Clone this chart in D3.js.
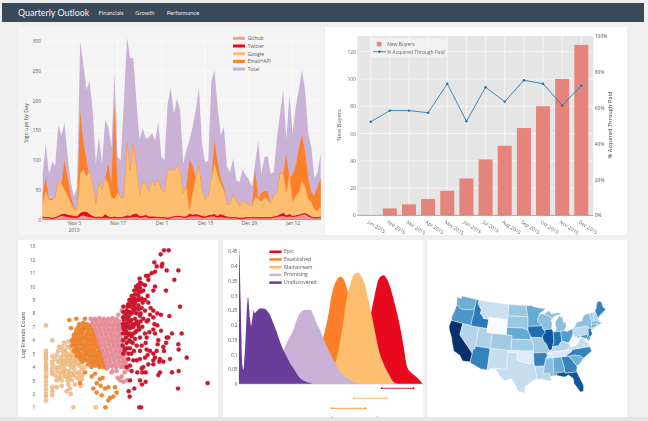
<!DOCTYPE html>
<html><head><meta charset="utf-8">
<script src="https://cdnjs.cloudflare.com/ajax/libs/d3/7.9.0/d3.min.js"></script>
<style>
html,body{margin:0;padding:0;background:#efefef;overflow:hidden}
svg{display:block;filter:blur(0.45px)}
text{font-family:"Open Sans",sans-serif;fill:#555}
.domain{display:none}
</style></head><body>
<svg id="c" width="648" height="421"></svg>
<script>
// ---------- Header ----------
const appTitle = "Quarterly Outlook";
const navItems = ["Financials", "Growth", "Performance"];

// ---------- Chart 1: sign ups by day ----------
const signupStart = new Date(2013, 9, 24);
const signupTotal = [78,127,77,97,91,159,142,163,105,63,38,55,300,262,218,233,184,94,139,94,168,156,122,247,105,100,200,306,272,272,200,134,153,136,138,146,132,164,105,101,195,222,178,204,184,94,117,134,156,184,222,128,97,99,232,252,190,142,156,89,80,103,66,63,84,75,67,55,94,132,77,105,107,77,80,139,178,218,134,211,145,190,218,252,218,145,122,69,80,112];
const signupEmail = [45,70,35,35,37,65,60,100,70,40,20,17,183,130,100,70,60,27,62,50,70,94,60,193,50,37,37,132,82,130,90,40,62,62,47,65,57,67,50,45,85,84,82,90,80,43,55,100,90,70,92,50,33,38,70,132,95,68,55,25,26,42,32,22,32,28,25,22,84,35,45,48,48,26,42,44,80,78,108,70,75,90,120,142,115,70,45,40,55,70];
const signupGoogle = [27,48,33,33,37,65,60,50,40,28,17,17,77,85,73,82,60,25,62,50,70,62,37,35,45,37,37,130,82,128,90,40,62,62,47,65,57,67,50,45,85,84,82,90,80,43,55,15,45,70,90,50,33,38,70,95,75,60,50,25,26,42,32,22,32,28,25,22,38,35,30,38,35,26,42,44,78,78,45,78,30,40,45,65,55,35,30,17,15,22];
const signupTwitter = [4,3,3,2,3,5,8,9,7,6,5,4,10,12,12,8,5,3,4,3,8,4,3,4,3,3,4,6,5,8,9,5,5,7,4,4,4,3,3,3,2,3,5,5,5,4,4,9,7,8,7,5,4,6,7,8,5,8,6,4,3,3,3,2,2,3,3,3,3,3,3,3,3,3,4,5,8,10,6,8,5,6,7,9,10,7,4,3,3,4];
const signupGithub = [3,2,2,1,2,4,6,5,4,3,3,2,5,7,5,4,3,2,2,2,3,2,2,2,2,2,3,3,3,4,4,3,3,4,2,2,3,2,2,2,1,2,4,4,4,3,3,5,5,5,5,3,3,4,5,5,3,4,3,3,2,2,2,1,1,2,2,2,2,2,2,2,2,2,3,4,5,6,4,5,4,5,6,8,9,5,3,2,2,3];
const signupLegend = ["Github","Twitter","Google","Email+API","Total"];
const signupColors = ["#fb9a99","#e8091e","#fdbf6f","#fd7f28","#cab2d6"];
const signupTicks = [new Date(2013,10,3),new Date(2013,10,17),new Date(2013,11,1),new Date(2013,11,15),new Date(2013,11,29),new Date(2014,0,12)];

// ---------- Chart 2: new buyers ----------
const months = ["Jan 2015","Feb 2015","Mar 2015","Apr 2015","May 2015","Jun 2015","Jul 2015","Aug 2015","Sep 2015","Oct 2015","Nov 2015","Dec 2015"];
const newBuyers = [0,5,8,12,18,27,41,51,64,80,100,125];
const paidShare = [52.2,58.4,58.4,57.2,73.4,52.4,71.4,63.4,75.3,73.4,61.3,72.3];

// ---------- Chart 3: scatter [score, log friends] ----------
const scatterTan = [[13.8,1.5],[13.8,1.8],[13.8,2],[13.8,2.3],[13.8,2.6],[13.8,2.9],[13.8,3.2],[13.8,3.4],[13.8,3.7],[13.8,3.9],[13.8,4.1],[13.8,4.3],[13.8,4.6],[13.8,4.8],[13.8,5],[13.8,5.2],[13.8,7.1],[15.7,1.9],[15.7,2.2],[15.7,2.5],[15.7,3.5],[15.7,3.7],[15.7,3.9],[15.7,4.2],[15.7,4.4],[15.7,4.8],[15.7,6],[17,2.5],[18.5,2.6],[20,2.2],[21,2.4],[21.2,2],[22.5,2.7],[24.2,2.6],[24,3],[19.2,5.8],[22.2,6.4],[20.5,5.9],[17.5,5.2],[17.7,5.5],[16.8,4],[16.5,3.4],[17.2,3.7],[18,3.2],[18.5,3],[19,3.6],[17.5,4.4],[18.2,4.7],[18.7,4.2],[19.3,3.9],[19.7,4.5],[20,3.3],[20.3,3],[20.8,3.7],[21,4.2],[21.2,4.8],[20.3,5],[19.5,5.2],[21.5,5.3],[22,3.4],[22.2,3.9],[22.5,4.5],[22.7,5],[23,5.5],[23,3.2],[23.5,3.6],[23.8,4.1],[24,4.6],[20.5,2.7],[24.7,3.4],[24.5,3.8],[25.3,4],[22,1],[28.7,1],[17,4.9],[21.6,3],[19,4.9],[18.5,5.5],[20.8,5.5],[21.8,5.8],[16.6,4.6],[17.3,3.2],[17.9,4],[18.1,3.5],[18.6,4.5],[18.9,5.2],[19.4,3.3],[19.6,4.2],[19.9,3.7],[19.9,4.8],[20.4,4.2],[20.6,3.4],[20.9,4.5],[21.3,3.5],[21.4,4],[21.7,4.5],[21.7,5],[22.1,4.2],[22.4,3.6],[22.8,4.2],[23.2,4.8],[23.4,4.4],[23.7,3.4],[24.3,4.3],[24.6,3.1],[18.6,3.8],[18,4.4],[19.1,4.4],[17,3],[21,3.2],[20,5.5],[22.3,5.3],[20.6,4.7],[22,4.7],[23.4,5]];
const scatterOrange = [[20.8,7.5],[22.9,7.6],[25.5,7.6],[21.3,6.9],[23.8,7.2],[25,7.3],[26,7.2],[27,7.1],[23,6.8],[24.2,6.8],[25.4,6.9],[26.6,6.8],[27.8,6.7],[22.2,6.4],[23.4,6.4],[24.6,6.5],[25.8,6.4],[27,6.4],[28.2,6.3],[21.6,6],[22.8,6],[24,6],[25.2,6.1],[26.4,6],[27.6,6],[28.8,5.9],[21.6,5.6],[22.8,5.6],[24,5.7],[25.2,5.6],[26.4,5.6],[27.6,5.6],[28.8,5.6],[29.8,5.5],[22.2,5.2],[23.4,5.2],[24.6,5.3],[25.8,5.2],[27,5.2],[28.2,5.2],[29.4,5.1],[30.4,5.1],[23.2,4.8],[24.4,4.8],[25.6,4.9],[26.8,4.8],[28,4.8],[29.2,4.8],[30.4,4.7],[24.8,4.4],[26,4.5],[27.2,4.4],[28.4,4.4],[29.6,4.4],[30.8,4.4],[27.4,4],[28.6,4.1],[29.8,4],[31,4],[32,3.9],[25.5,3.6],[27.5,3.3],[28.5,3.5],[29,2.8],[30,3.1],[28,2.4],[29,2.1],[30.5,1.9],[31.5,2.4],[32.5,2.5],[33,1.7],[34,1.8],[32.5,1.5],[34.5,2.5],[35,2.1],[31.6,1],[30.2,2.6],[30.8,3.2],[24,2.8],[23.5,7],[24.8,7.05],[26,7],[27.2,6.9],[22.8,6.6],[24,6.6],[25.2,6.7],[26.4,6.6],[27.6,6.5],[28.6,6.5],[22.2,6.2],[23.4,6.2],[24.6,6.25],[25.8,6.2],[27,6.2],[28.2,6.15],[29.2,6.1],[22,5.8],[23.2,5.8],[24.4,5.85],[25.6,5.8],[26.8,5.8],[28,5.8],[29.2,5.75],[22.6,5.4],[23.8,5.4],[25,5.45],[26.2,5.4],[27.4,5.4],[28.6,5.4],[29.8,5.3],[23,5],[24.2,5],[25.4,5.05],[26.6,5],[27.8,5],[29,5],[30.2,4.9],[24.2,4.6],[25.4,4.65],[26.6,4.6],[27.8,4.6],[29,4.6],[30.2,4.6],[31.2,4.5],[26.4,4.2],[27.6,4.25],[28.8,4.2],[30,4.2],[31.2,4.2]];
const scatterPink = [[27.2,7.6],[28.5,7.6],[29.8,7.65],[31.1,7.6],[32.4,7.6],[33.7,7.65],[35,7.6],[35.5,7.9],[36.5,8.2],[27.7,7.2],[29,7.2],[30.3,7.2],[31.6,7.25],[32.9,7.2],[34.2,7.2],[35.5,7.2],[28.6,6.8],[29.9,6.8],[31.2,6.85],[32.5,6.8],[33.8,6.8],[35.1,6.8],[36.1,6.8],[29.2,6.4],[30.5,6.4],[31.8,6.45],[33.1,6.4],[34.4,6.4],[35.7,6.4],[29.7,6],[31,6],[32.3,6.05],[33.6,6],[34.9,6],[36.2,6],[30.2,5.6],[31.5,5.6],[32.8,5.65],[34.1,5.6],[35.4,5.6],[36.4,5.5],[30.7,5.2],[32,5.2],[33.3,5.25],[34.6,5.2],[35.9,5.2],[36.7,5.1],[31.2,4.8],[32.5,4.8],[33.8,4.85],[35.1,4.8],[36.4,4.8],[31.7,4.4],[33,4.4],[34.3,4.45],[35.6,4.4],[36.9,4.4],[37.8,4.3],[32.3,4],[33.6,4.05],[34.9,4],[36.2,4],[37.2,4],[33.5,3.6],[35,3.7],[36.5,3.3],[37,2.9],[38,3],[36,3],[33.8,3.7],[35.3,3.2],[37.4,3.6],[38.4,3.8],[27.9,7.4],[29.2,7.4],[30.5,7.4],[31.8,7.4],[33.1,7.45],[34.4,7.4],[35.7,7.4],[28.4,7],[29.7,7],[31,7],[32.3,7.05],[33.6,7],[34.9,7],[36,7],[29,6.6],[30.3,6.6],[31.6,6.6],[32.9,6.65],[34.2,6.6],[35.5,6.6],[29.6,6.2],[30.9,6.2],[32.2,6.2],[33.5,6.25],[34.8,6.2],[36,6.2],[30,5.8],[31.3,5.8],[32.6,5.8],[33.9,5.85],[35.2,5.8],[36.4,5.8],[30.5,5.4],[31.8,5.4],[33.1,5.4],[34.4,5.45],[35.7,5.4],[36.8,5.4],[31,5],[32.3,5],[33.6,5],[34.9,5.05],[36.2,5],[37.2,4.9],[31.6,4.6],[32.9,4.6],[34.2,4.6],[35.5,4.65],[36.8,4.6],[37.6,4.55],[32,4.2],[33.3,4.2],[34.6,4.2],[35.9,4.25],[37.2,4.2]];
const scatterRed = [[37,5],[37.5,5.4],[38,5.8],[37,6],[38.5,5],[39,5.4],[39.8,5.8],[37.4,6.5],[38.5,6.4],[39.5,6.3],[40.5,6.1],[41,5.6],[37,7],[38,7],[39,6.9],[40,7],[41,6.7],[42,6.2],[37.2,7.5],[38.3,7.6],[39.4,7.5],[40.5,7.6],[41.5,7.2],[42.7,7],[43.5,6.5],[37,8.1],[38,8.2],[39,8.1],[40,8.3],[41,8],[42,7.8],[43,7.6],[44,7.4],[38.5,8.7],[39.5,8.8],[40.5,8.8],[41.5,8.6],[42.5,8.4],[43.5,8.2],[39.5,9.3],[40.5,9.4],[41.5,9.3],[42.5,9.1],[43.5,9],[44.5,8.8],[41,9.8],[42,9.9],[43,9.7],[42,10.3],[42.5,10.2],[43.5,10.1],[36.8,5.6],[37.8,6.2],[38.8,6],[39.4,5],[40.2,5.2],[40.6,6.6],[41.8,6.8],[37.8,6.7],[38.6,7.3],[39.7,7.2],[41,7.4],[42.2,7.4],[37.8,7.9],[38.7,7.8],[40.5,8.1],[41.6,8.3],[36.9,7.7],[39.1,8.5],[40.1,8.6],[42.8,8.8],[41.1,9],[42.2,9.6],[40.3,9.1],[38.8,9],[40.3,9.7],[44.5,10.8],[43.8,10.8],[45.5,11],[46.5,11.1],[47,11.5],[48.5,11.5],[48.7,11.7],[46.3,11.8],[48.2,12.4],[49.2,12.7],[50.6,12.7],[53.5,11.2],[50,11.2],[52.3,10.5],[44.5,10.5],[46.5,10],[46,9.7],[49.8,9.7],[54,8.5],[44.5,7.5],[46,7.7],[46.3,7.2],[47.2,8],[48.3,7.9],[50.8,7.8],[46,6.8],[47.2,7.1],[46.5,6.5],[48.3,6.7],[49.8,5.8],[51.6,6.5],[54.5,6.5],[50,6.2],[50.5,6.2],[53.5,5.7],[53.6,5.3],[47.5,6],[47.3,5.7],[49,5.5],[49.2,5.2],[47,5.2],[46,5],[46.5,4.7],[45,5.2],[44,5.3],[44.3,4.9],[43.5,4.7],[46,4.5],[47.8,4.4],[48,4.6],[49,4.4],[51,4.6],[56,4.7],[38.5,4.6],[40,4.5],[41,4.5],[42,4.6],[43,4],[42.5,3.9],[44.5,4.2],[46,4.2],[38,4],[39,4.1],[39.5,3.7],[41.2,3.6],[42.7,3.6],[43.7,3.6],[47.5,3.4],[48,3.6],[51.6,3.6],[53.6,3.7],[39,3],[42,3],[43.7,2.9],[42.6,2.7],[40.3,2.4],[38.6,2.2],[38.9,1.8],[53.4,2.4],[62.3,2.8],[41.8,1],[42.3,1],[44,6.2],[43.7,5.8],[42.5,5.6],[42,5.2],[44.8,6.6],[45,7.9],[45.2,8.4],[44.3,9.3],[46,8.2],[37.4,5.2],[38.3,5.4],[39.1,5.9],[38,6.6],[39,6.5],[40,6.5],[37.6,7.2],[38.6,7],[39.6,7],[40.6,7.2],[41.6,7],[37.5,7.8],[38.5,8.1],[39.5,8],[40.6,8.4],[42.2,8],[38.2,8.5],[39.2,9],[40,9],[41.8,9],[41.5,9.6],[40.8,10],[41.4,10.1],[41.9,10.6],[37.2,6.8],[36.8,6.5],[36.8,7.2],[37,8.5],[38.5,7.4]];

// ---------- Chart 4: densities [score, density] ----------
const densityNames = ["Epic","Established","Mainstream","Promising","Undiscovered"];
const densityColors = ["#e8091e","#fd7f28","#fdbf6f","#c9b2d6","#6a3d9a"];
const densityEpic = [[17.15,0],[18.4,.076],[19.15,.166],[19.9,.251],[20.4,.307],[20.9,.353],[21.4,.367],[21.65,.369],[22.15,.358],[22.65,.33],[23.15,.29],[23.65,.245],[24.15,.194],[24.65,.132],[25.15,.064],[25.65,.042],[26.4,.028],[27.15,.011],[27.55,0]];
const densityEstablished = [[10.4,0],[11.65,.053],[12.4,.132],[12.9,.183],[13.4,.234],[13.9,.302],[14.4,.341],[14.9,.36],[15.25,.364],[15.75,.353],[16.25,.319],[16.55,.29],[17.15,.211],[18.15,.11],[19.15,.03],[19.9,0]];
const densityMainstream = [[12.15,0],[13.15,.019],[13.9,.047],[14.65,.087],[15.15,.143],[15.65,.211],[16.15,.29],[16.65,.336],[17.15,.369],[17.75,.377],[18.4,.364],[18.9,.336],[19.4,.285],[19.9,.234],[20.4,.177],[20.9,.121],[21.65,.07],[22.4,.036],[23.15,.008],[23.9,0]];
const densityPromising = [[4.65,.002],[5.65,.042],[6.4,.093],[7,.132],[7.65,.16],[8.15,.183],[8.65,.217],[9.15,.24],[9.65,.25],[10.15,.252],[10.75,.252],[11.15,.234],[11.65,.206],[12.15,.183],[12.65,.155],[13.15,.127],[13.65,.104],[14.4,.07],[15.15,.042],[16.15,.021],[17.15,.008],[18.15,0]];
const densityUndiscovered = [[0,0],[0.01,.46],[0.25,.28],[0.5,.065],[0.65,.047],[0.9,.12],[1.35,.295],[1.65,.222],[1.8,.197],[2,.222],[2.2,.25],[2.35,.24],[2.65,.247],[3.15,.256],[3.65,.256],[4.15,.25],[4.65,.234],[5.15,.205],[5.65,.177],[6.15,.143],[6.65,.115],[7.15,.093],[7.65,.07],[8.15,.053],[8.65,.036],[9.15,.02],[9.65,.012],[10.4,.005],[11.15,0]];
const densityRanges = [[21.4,26.15,"#d7142b"],[17.3,22.15,"#fdb25f"],[13.9,19,"#fd9140"]];
const densityTicks = [0,.05,.1,.15,.2,.25,.3,.35,.4,.45];

// ---------- Chart 5: state map ----------
const stateCodes = ["WA","OR","CA","NV","ID","MT","WY","UT","AZ","CO","NM","ND","SD","NE","KS","OK","TX","MN","IA","MO","AR","LA","WI","IL","MI","IN","OH","KY","TN","MS","AL","GA","FL","SC","NC","VA","WV","PA","MD","DE","NJ","NY","CT","RI","MA","VT","NH","ME"];
const stateValues = [.5,.6,1,.3,.72,.22,0,.32,.68,.36,.24,.38,.38,.52,.36,.13,.24,.52,.76,.36,.68,.28,.42,.86,.42,.74,.58,.3,.14,.42,.52,.68,.86,.48,.68,.24,0,.28,.6,.72,.76,.42,.48,.52,.48,.36,.3,.68];
const stateRings = [
 [[[-124.7,48.4],[-123.2,48.2],[-122.8,49],[-117.03,49],[-117.04,46.4],[-119,45.93],[-121.2,45.65],[-122.3,45.55],[-123.2,46.15],[-124,46.25]]],
 [[[-124,46.25],[-123.2,46.15],[-122.3,45.55],[-121.2,45.65],[-119,45.93],[-117.04,46.4],[-116.9,45],[-117.03,44.2],[-117.03,42],[-120,42],[-124.2,42],[-124.5,43],[-124.1,44.5]]],
 [[[-124.2,42],[-120,42],[-120,39],[-114.6,35],[-114.7,32.7],[-117.1,32.5],[-118.4,33.8],[-120.6,34.5],[-121.9,36.6],[-122.5,37.8],[-123.8,39.3],[-124.4,40.4]]],
 [[[-120,42],[-117.03,42],[-114.04,42],[-114.04,37],[-114.04,36.2],[-114.6,36.1],[-114.6,35],[-120,39]]],
 [[[-117.03,49],[-116.05,49],[-116.05,48],[-114.4,46.6],[-114.5,45.6],[-113.5,45.1],[-113,44.5],[-111.05,44.5],[-111.05,42],[-114.04,42],[-117.03,42],[-117.03,44.2],[-116.9,45],[-117.04,46.4]]],
 [[[-116.05,49],[-104.05,49],[-104.05,45],[-111.05,45],[-111.05,44.5],[-113,44.5],[-113.5,45.1],[-114.5,45.6],[-114.4,46.6],[-116.05,48]]],
 [[[-111.05,45],[-104.05,45],[-104.05,41],[-109.05,41],[-111.05,41]]],
 [[[-114.04,42],[-111.05,42],[-111.05,41],[-109.05,41],[-109.05,37],[-114.04,37]]],
 [[[-114.04,37],[-109.05,37],[-109.05,31.33],[-111.07,31.33],[-114.8,32.5],[-114.7,32.7],[-114.6,35],[-114.6,36.1],[-114.04,36.2]]],
 [[[-109.05,41],[-104.05,41],[-102.05,41],[-102.05,37],[-103,37],[-109.05,37]]],
 [[[-109.05,37],[-103,37],[-103,32],[-106.6,32],[-106.5,31.8],[-108.2,31.8],[-108.2,31.33],[-109.05,31.33]]],
 [[[-104.05,49],[-97.2,49],[-96.6,46],[-104.05,46]]],
 [[[-104.05,46],[-96.6,46],[-96.45,45.3],[-96.45,42.5],[-98.5,43],[-104.05,43]]],
 [[[-104.05,43],[-98.5,43],[-96.45,42.5],[-95.9,41.5],[-95.3,40],[-102.05,40],[-102.05,41],[-104.05,41]]],
 [[[-102.05,40],[-95.3,40],[-94.6,39.1],[-94.6,37],[-102.05,37]]],
 [[[-103,37],[-94.6,37],[-94.45,33.65],[-97,33.8],[-100,34.56],[-100,36.5],[-103,36.5]]],
 [[[-106.6,32],[-103,32],[-103,36.5],[-100,36.5],[-100,34.56],[-97,33.8],[-94.45,33.65],[-94.05,33],[-94,31.5],[-93.55,31],[-93.8,29.7],[-95,29.2],[-97.2,27.7],[-97.4,26],[-99.2,26.4],[-100.5,28.5],[-101.4,29.8],[-103.1,29],[-104.5,29.6],[-106.5,31.8]]],
 [[[-97.2,49],[-95.15,49],[-94.6,48.7],[-92,48.3],[-89.6,48],[-92.1,46.75],[-92.3,46.1],[-92.8,45.5],[-92.8,44.75],[-91.2,43.5],[-96.45,43.5],[-96.45,45.3],[-96.6,46]]],
 [[[-96.45,43.5],[-91.2,43.5],[-91.1,42.7],[-90.2,41.8],[-91.1,41.2],[-91.4,40.4],[-95.3,40.6],[-95.9,41.5],[-96.45,42.5]]],
 [[[-95.3,40.6],[-91.4,40.4],[-91,39.5],[-90.2,38.8],[-89.5,37.3],[-89.1,36.95],[-89.6,36.5],[-90.3,36],[-90.3,36.5],[-94.6,36.5],[-94.6,37],[-94.6,39.1],[-95.3,40]]],
 [[[-94.6,36.5],[-90.3,36.5],[-90.3,36],[-89.7,36],[-90.6,35],[-91.2,33],[-94.05,33],[-94.45,33.65]]],
 [[[-94.05,33],[-91.2,33],[-91.6,31],[-89.7,31],[-89.6,30.2],[-89.2,29.2],[-90.5,29.1],[-92,29.6],[-93.8,29.7],[-93.55,31],[-94,31.5]]],
 [[[-92.1,46.75],[-90.4,46.55],[-88.1,45.9],[-87.6,45.1],[-88,44.5],[-87.5,44.3],[-87.9,43],[-87.8,42.5],[-90.6,42.5],[-91.1,42.7],[-91.2,43.5],[-92.8,44.75],[-92.8,45.5],[-92.3,46.1]]],
 [[[-90.6,42.5],[-87.8,42.5],[-87.5,41.7],[-87.5,39.3],[-88.1,37.9],[-88.5,37.1],[-89.1,36.95],[-89.5,37.3],[-90.2,38.8],[-91,39.5],[-91.4,40.4],[-91.1,41.2],[-90.2,41.8]]],
 [[[-90.4,46.55],[-88.4,47.4],[-87.5,46.5],[-85,46.7],[-84.4,46.5],[-84,46],[-85.5,46],[-86.5,45.8],[-87.6,45.1],[-88.1,45.9]],[[-86.8,41.76],[-84.8,41.7],[-83.5,41.73],[-83.1,42.2],[-82.5,43],[-82.6,43.9],[-83.5,44],[-83.3,45],[-84.7,45.8],[-85.5,45],[-86.3,44.5],[-86.5,43.5],[-86.2,42.5]]],
 [[[-87.5,41.7],[-86.8,41.76],[-84.8,41.7],[-84.8,39.1],[-85.4,38.7],[-86,38],[-88.1,37.9],[-87.5,39.3]]],
 [[[-84.8,41.7],[-83.5,41.73],[-82.5,41.4],[-80.52,42],[-80.52,40.6],[-81.7,39.2],[-82.6,38.4],[-84.8,39.1]]],
 [[[-89.4,36.5],[-88.1,36.6],[-83.7,36.6],[-82,37.5],[-82.6,38.4],[-84.8,39.1],[-85.4,38.7],[-86,38],[-88.1,37.9],[-88.5,37.1],[-89.1,36.95]]],
 [[[-90.3,35],[-88.2,35],[-84.3,35],[-82,36.1],[-81.7,36.6],[-83.7,36.6],[-88.1,36.6],[-89.4,36.5],[-89.7,36]]],
 [[[-90.3,35],[-88.2,35],[-88.4,30.3],[-89.6,30.2],[-89.7,31],[-91.6,31],[-91.2,33],[-90.6,35]]],
 [[[-88.2,35],[-85.6,35],[-85,32.3],[-85,31],[-87.6,31],[-87.5,30.3],[-88.4,30.3]]],
 [[[-85.6,35],[-83.1,35],[-81,32.1],[-81.4,30.7],[-82.2,30.6],[-84.9,30.7],[-85,31],[-85,32.3]]],
 [[[-87.6,31],[-85,31],[-84.9,30.7],[-82.2,30.6],[-81.4,30.7],[-80.5,28.3],[-80,26.8],[-80.3,25.3],[-81.2,25.2],[-82.7,27.7],[-82.7,29],[-84,30.1],[-85.3,29.7],[-87.5,30.3]]],
 [[[-83.1,35],[-81,35.1],[-80.8,34.8],[-79.7,34.8],[-78.55,33.85],[-79.5,33],[-81,32.1]]],
 [[[-84.3,35],[-83.1,35],[-81,35.1],[-80.8,34.8],[-79.7,34.8],[-78.55,33.85],[-77,34.6],[-75.5,35.3],[-75.9,36.55],[-81.7,36.6],[-82,36.1]]],
 [[[-83.7,36.6],[-81.7,36.6],[-75.9,36.55],[-76,37.5],[-76.4,38],[-77.3,38.4],[-77.1,38.9],[-77.7,39.3],[-78.3,39.4],[-78.9,38.6],[-80.3,37.5],[-81.7,37.3],[-82,37.5]]],
 [[[-82.6,38.4],[-81.7,39.2],[-80.52,40.6],[-80.52,39.72],[-79.48,39.72],[-79.48,39.2],[-78.3,39.6],[-77.7,39.3],[-78.3,39.4],[-78.9,38.6],[-80.3,37.5],[-81.7,37.3],[-82,37.5]]],
 [[[-80.52,42],[-79.76,42.27],[-79.76,42],[-75.3,42],[-74.7,41.35],[-75.1,40.9],[-75.2,40.2],[-75.4,39.8],[-75.8,39.72],[-80.52,39.72]]],
 [[[-79.48,39.72],[-75.8,39.72],[-75.7,38.46],[-75.05,38.46],[-75.9,37.95],[-76.4,38.9],[-77.1,38.9],[-77.7,39.3],[-78.3,39.6],[-79.48,39.2]]],
 [[[-75.8,39.72],[-75.4,39.8],[-75.1,38.8],[-75.05,38.46],[-75.7,38.46]]],
 [[[-74.7,41.35],[-74,41],[-74.2,40.4],[-74,39.7],[-74.9,38.95],[-75.5,39.5],[-75.4,39.8],[-75.2,40.2],[-75.1,40.9]]],
 [[[-79.76,42.27],[-78.9,42.9],[-79,43.3],[-76.5,43.5],[-76.3,44.2],[-75,45],[-73.35,45],[-73.3,43.6],[-73.27,42.75],[-73.5,42.05],[-73.5,41.3],[-73.7,41],[-72,41.1],[-74,40.6],[-74,41],[-74.7,41.35],[-75.3,42],[-79.76,42]]],
 [[[-73.5,42.05],[-71.8,42.02],[-71.85,41.32],[-73.7,41]]],
 [[[-71.8,42.02],[-71.38,42.02],[-71.2,41.5],[-71.85,41.32]]],
 [[[-73.5,42.05],[-73.27,42.75],[-72.46,42.73],[-71.3,42.7],[-70.8,42.85],[-70.6,42.65],[-71,42.3],[-70,41.8],[-70,41.6],[-71.2,41.5],[-71.38,42.02],[-71.8,42.02]]],
 [[[-73.35,45],[-71.5,45],[-72.4,43.5],[-72.46,42.73],[-73.27,42.75],[-73.3,43.6]]],
 [[[-71.5,45],[-71.1,45.3],[-70.7,43.1],[-70.8,42.85],[-71.3,42.7],[-72.46,42.73],[-72.4,43.5]]],
 [[[-71.1,45.3],[-70.3,45.9],[-70,46.7],[-69.2,47.45],[-68.3,47.35],[-67.8,47.07],[-67.8,45.7],[-67,44.9],[-68.5,44.3],[-70,43.7],[-70.7,43.1]]]
];

// ---------- Drawing ----------
const svg = d3.select("#c");
const g = svg.append("g");
const rect = (x,y,w,h,f) => g.append("rect").attr("x",x).attr("y",y).attr("width",w).attr("height",h).attr("fill",f);
const label = (x,y,s,size,fill,anchor,rot) => {
  const t = g.append("text").attr("font-size",size).attr("fill",fill||"#555").style("fill",fill||"#555")
    .attr("text-anchor",anchor||"start").text(s);
  t.attr("transform",`translate(${x},${y})`+(rot?` rotate(${rot})`:""));
  return t;
};
const styleAxis = (sel,size,col) => {
  sel.selectAll(".tick line").remove();
  sel.selectAll("text").attr("font-size",size).style("fill",col||"#555").style("font-family",'"Open Sans",sans-serif');
  sel.attr("font-family",null).attr("font-size",null);
};

// page frame
rect(0,417,648,4,"#e6e6e6");
rect(2,3,642,19,"#3a4a59");
label(18,16.2,appTitle,8.9,"#f2f4f6").style("font-family","Lato");
navItems.forEach((n,i)=>label([98.5,135.3,166.7][i],15,n,5.8,"#e6e9ec").style("font-family","Lato"));
rect(18,27,305,208,"#f4f4f4");
rect(325,27,302,208,"#ffffff");
rect(18,240,200,177,"#ffffff");
rect(223,240,200,177,"#ffffff");
rect(427,240,200,177,"#ffffff");

// Chart 1
(function(){
  const days = signupTotal.map((_,i)=>d3.timeDay.offset(signupStart,i));
  const x = d3.scaleTime().domain([days[0],days[days.length-1]]).range([42.7,320.7]);
  const y = d3.scaleLinear().domain([0,300]).range([219.5,41.3]);
  const grid = g.append("g").attr("stroke","#fff").attr("stroke-width",.6);
  grid.selectAll(".gy").data([50,100,150,200,250,300]).join("line").attr("x1",42.7).attr("x2",320.7).attr("y1",d=>y(d)).attr("y2",d=>y(d));
  grid.selectAll(".gx").data(signupTicks).join("line").attr("x1",d=>x(d)).attr("x2",d=>x(d)).attr("y1",36).attr("y2",219.5);
  const area = d3.area().x((d,i)=>x(days[i])).y0(y(0)).y1(d=>y(d));
  [[signupTotal,4],[signupEmail,3],[signupGoogle,2],[signupTwitter,1],[signupGithub,0]].forEach(([s,c])=>{
    g.append("path").datum(s).attr("d",area).attr("fill",signupColors[c]);
    if(c===2) g.append("path").datum(s).attr("d",d3.line().x((d,i)=>x(days[i])).y(d=>y(d))).attr("fill","none").attr("stroke","#f49a4a").attr("stroke-width",.5);
    if(c===1) g.append("path").datum(s).attr("d",d3.line().x((d,i)=>x(days[i])).y(d=>y(d))).attr("fill","none").attr("stroke","#e8091e").attr("stroke-width",.7);
  });
  g.append("path").datum(signupTwitter).attr("d",d3.line().x((d,i)=>x(days[i])).y(d=>y(d))).attr("fill","none").attr("stroke","#e8091e").attr("stroke-width",.6);
  const ax = g.append("g").attr("transform","translate(0,219.5)").call(d3.axisBottom(x).tickValues(signupTicks).tickFormat(d3.timeFormat("%b %-d")).tickSize(0).tickPadding(2.5));
  styleAxis(ax,4.8,"#555");
  label(x(signupTicks[0]),231.5,"2013",4.8,"#555","middle");
  const ay = g.append("g").attr("transform","translate(42.7,0)").call(d3.axisLeft(y).tickValues([0,50,100,150,200,250,300]).tickSize(0).tickPadding(1.8));
  styleAxis(ay,4.8,"#555");
  label(28,123,"Sign ups by Day",5.4,"#444","middle",-90);
  signupLegend.forEach((n,i)=>{
    const ly = 38.3+i*7.7;
    rect(233,ly-1.5,12,3,signupColors[i]);
    label(247.7,ly+1.8,n,5,"#555");
  });
})();

// Chart 2
(function(){
  const x = d3.scaleBand().domain(months).range([361.1,590.9]).paddingInner(.27).paddingOuter(.135);
  const cx = m => x(m)+x.bandwidth()/2;
  const y = d3.scaleLinear().domain([0,120]).range([215.3,51.7]);
  const y2 = d3.scaleLinear().domain([0,100]).range([215.3,36]);
  rect(357.3,36,236,179.3,"#e5e5e5");
  const grid = g.append("g").attr("stroke","#fff").attr("stroke-width",.6);
  grid.selectAll(".gy").data([20,40,60,80,100,120]).join("line").attr("x1",357.3).attr("x2",593.3).attr("y1",d=>y(d)).attr("y2",d=>y(d));
  grid.selectAll(".gx").data(months).join("line").attr("x1",cx).attr("x2",cx).attr("y1",36).attr("y2",215.3);
  g.append("g").selectAll("rect").data(months).join("rect").attr("x",d=>x(d)).attr("width",x.bandwidth())
    .attr("y",(d,i)=>y(newBuyers[i])).attr("height",(d,i)=>y(0)-y(newBuyers[i])).attr("fill","#e5847a");
  g.append("line").attr("x1",357.3).attr("x2",593.3).attr("y1",215.4).attr("y2",215.4).attr("stroke","#8a8a8a").attr("stroke-width",.7);
  g.append("path").datum(paidShare).attr("d",d3.line().x((d,i)=>cx(months[i])).y(d=>y2(d))).attr("fill","none").attr("stroke","#2c7fb0").attr("stroke-width",.9);
  g.append("g").selectAll("circle").data(paidShare).join("circle").attr("cx",(d,i)=>cx(months[i])).attr("cy",d=>y2(d)).attr("r",1.2).attr("fill","#1f6fa5");
  const ax = g.append("g").attr("transform","translate(0,215.3)").call(d3.axisBottom(x).tickSize(0).tickPadding(2));
  styleAxis(ax,4.9,"#666");
  ax.selectAll("text").attr("text-anchor","start").attr("dy",0).attr("transform","translate(-2,6) rotate(33)");
  const ay = g.append("g").attr("transform","translate(357.3,0)").call(d3.axisLeft(y).tickValues([0,20,40,60,80,100,120]).tickSize(0).tickPadding(1.5));
  styleAxis(ay,4.9,"#666");
  const ar = g.append("g").attr("transform","translate(593.3,0)").call(d3.axisRight(y2).tickValues([0,20,40,60,80,100]).tickFormat(d=>d+"%").tickSize(0).tickPadding(1.5));
  styleAxis(ar,4.9,"#555");
  label(341,125,"New Buyers",5.7,"#666","middle",-90);
  label(612,125,"% Acquired Through Paid",5.7,"#444","middle",-90);
  rect(370.7,38.3,76.3,19.4,"rgba(255,255,255,.45)");
  rect(376.8,41.8,4.6,4.6,"#e5847a");
  label(387.3,46,"New Buyers",4.9,"#666");
  g.append("line").attr("x1",373).attr("x2",386).attr("y1",51.7).attr("y2",51.7).attr("stroke","#2c7fb0").attr("stroke-width",.9);
  g.append("circle").attr("cx",379.5).attr("cy",51.7).attr("r",1.2).attr("fill","#1f6fa5");
  label(387.3,53.6,"% Acquired Through Paid",4.9,"#666");
})();

// Chart 3
(function(){
  const x = d3.scaleLinear().domain([0,67.5]).range([0,225]);
  const y = d3.scaleLinear().domain([1,13]).range([407.3,246.3]);
  [[scatterTan,"#f6c38a","#c99a68"],[scatterOrange,"#f7862a","#c67a38"],[scatterPink,"#ee8f9d","#c98088"],[scatterRed,"#d2142c","#b3202f"]].forEach(([pts,f,s])=>{
    g.append("g").selectAll("circle").data(pts).join("circle").attr("cx",d=>x(d[0])).attr("cy",d=>y(d[1])).attr("r",2.1).attr("fill",f).attr("stroke",s).attr("stroke-width",.3);
  });
  const ay = g.append("g").attr("transform","translate(35.3,0)").call(d3.axisLeft(y).tickValues(d3.range(1,14)).tickSize(0).tickPadding(0));
  styleAxis(ay,4.9,"#555");
  label(25,335,"Log Friends Count",5.5,"#444","middle",-90);
})();

// Chart 4
(function(){
  const x = d3.scaleLinear().domain([0,27.55]).range([239,422.7]);
  const y = d3.scaleLinear().domain([0,.45]).range([384,251.3]);
  const area = d3.area().curve(d3.curveMonotoneX).x(d=>x(d[0])).y0(y(0)).y1(d=>y(d[1]));
  [densityEpic,densityEstablished,densityMainstream,densityPromising,densityUndiscovered].forEach((s,i)=>{
    g.append("path").datum(s).attr("d",area).attr("fill",densityColors[i]);
  });
  g.append("line").attr("x1",239).attr("x2",422.7).attr("y1",384).attr("y2",384).attr("stroke","#cdbad9").attr("stroke-width",.6);
  const ay = g.append("g").attr("transform","translate(238,0)").call(d3.axisLeft(y).tickValues(densityTicks).tickFormat(d3.format("~g")).tickSize(0).tickPadding(.5));
  styleAxis(ay,4.7,"#555");
  densityRanges.forEach(([a,b,c],i)=>{
    const ry = 388.3+i*10;
    g.append("line").attr("x1",x(a)).attr("x2",x(b)).attr("y1",ry).attr("y2",ry).attr("stroke",c).attr("stroke-width",.9);
    g.selectAll(null).data([a,b]).join("circle").attr("cx",d=>x(d)).attr("cy",ry).attr("r",1).attr("fill",c);
  });
  densityNames.forEach((n,i)=>{
    const ly = 251.7+i*7.72;
    rect(269.3,ly-1.2,12.3,2.5,densityColors[i]);
    label(284,ly+1.5,n,5.1,"#555");
  });
  g.selectAll(null).data([14,20.7]).join("circle").attr("cx",d=>x(d)).attr("cy",417).attr("r",.8).attr("fill","#bbb");
})();

// Chart 5
(function(){
  const features = stateCodes.map((code,i)=>{
    const f = {type:"Feature",properties:{code,value:stateValues[i]},geometry:{type:"MultiPolygon",coordinates:stateRings[i].map(r=>[r.concat([r[0]])])}};
    f.geometry.coordinates.forEach(p=>{
      if(d3.geoArea({type:"Polygon",coordinates:p})>2*Math.PI) p[0].reverse();
    });
    return f;
  });
  const fc = {type:"FeatureCollection",features};
  const projection = d3.geoAlbers().fitExtent([[448,296],[607,393]],fc);
  const path = d3.geoPath(projection);
  const colour = d3.scaleSequential(d3.interpolateBlues).domain([0,1]);
  g.append("g").selectAll("path").data(features).join("path").attr("d",path)
    .attr("fill",d=>colour(d.properties.value)).attr("stroke","#fff").attr("stroke-width",.4);
})();
</script>
</body></html>
